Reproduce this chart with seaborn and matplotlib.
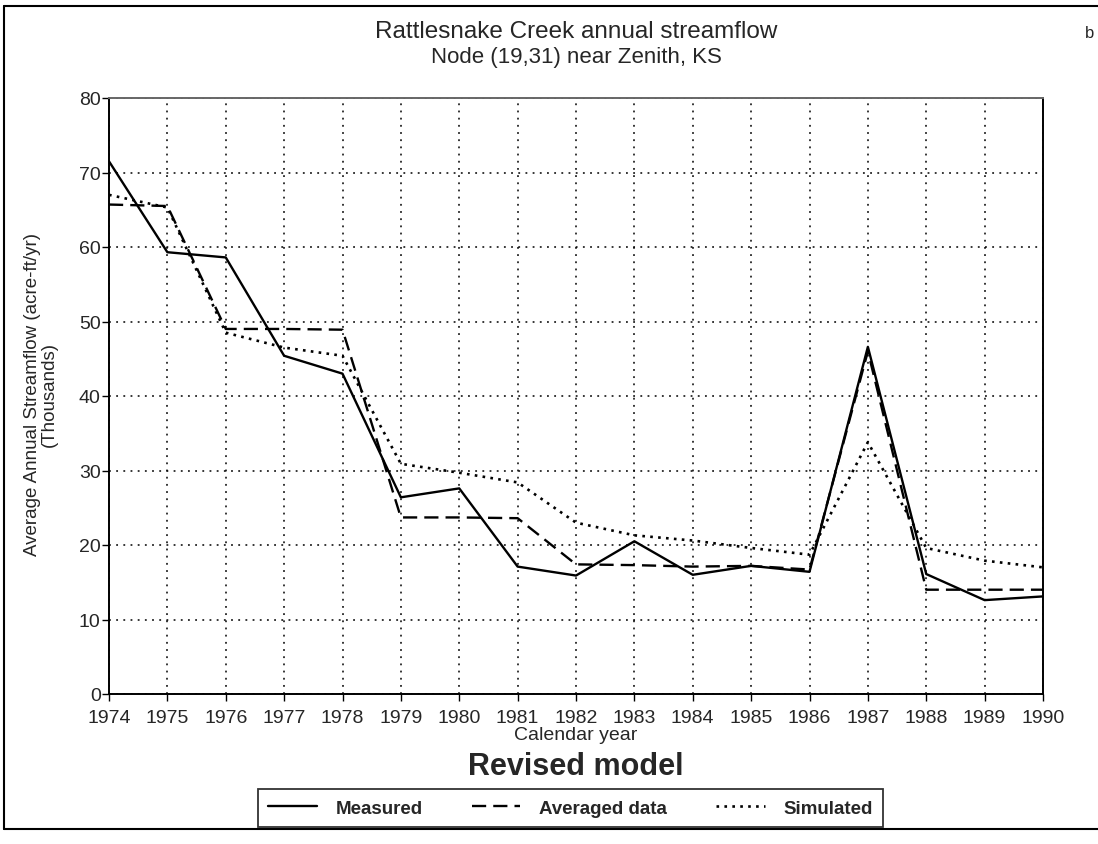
import matplotlib
matplotlib.use("Agg")
import matplotlib.pyplot as plt
from matplotlib.lines import Line2D
import seaborn as sns
import pandas as pd

# Annual streamflow, thousands of acre-ft/yr
years = list(range(1974, 1991))
measured = [71.5, 59.3, 58.6, 45.4, 43.0, 26.4, 27.6, 17.1, 15.9, 20.5,
            16.0, 17.2, 16.4, 46.6, 16.1, 12.6, 13.1]
averaged = [65.7, 65.5, 49.0, 49.0, 48.9, 23.7, 23.7, 23.6, 17.4, 17.3,
            17.1, 17.2, 16.7, 46.0, 14.0, 14.0, 14.0]
simulated = [67.0, 65.3, 48.5, 46.5, 45.4, 30.9, 29.7, 28.4, 23.0, 21.3,
             20.6, 19.6, 18.7, 33.8, 19.6, 17.9, 17.0]
series_names = ["Measured", "Averaged data", "Simulated"]
y_ticks = list(range(0, 90, 10))

sns.set_theme(style="white")
plt.rcParams["font.family"] = ["Liberation Sans", "DejaVu Sans"]

W, H = 1098, 845
fig = plt.figure(figsize=(W / 100, H / 100), dpi=100)
ax = fig.add_axes([109 / W, 1 - 695 / H, (1043 - 109) / W, (695 - 99) / H])
cx = (109 + 1043) / 2 / W  # horizontal centre of the plot area

styles = {
    "Measured": dict(color="black", linewidth=1.7, linestyle="-"),
    "Averaged data": dict(color="black", linewidth=1.7, linestyle=(0, (6, 3))),
    "Simulated": dict(color="black", linewidth=1.9, linestyle=(0, (1, 2))),
}
for name, vals in zip(series_names, [measured, averaged, simulated]):
    df = pd.DataFrame({"year": years, "flow": vals})
    sns.lineplot(data=df, x="year", y="flow", ax=ax, label=name, **styles[name])

ax.set_xlim(years[0], years[-1])
ax.set_ylim(0, 80)
ax.set_xticks(years)
ax.set_xticklabels([str(y) for y in years], fontsize=14)
ax.set_yticks(y_ticks)
ax.set_yticklabels([str(t) for t in y_ticks], fontsize=14)
ax.tick_params(axis="x", direction="out", length=5, width=1, color="black",
               bottom=True, pad=6)
ax.tick_params(axis="y", direction="out", length=5, width=1, color="black",
               left=True, pad=1)
ax.grid(True, color="black", linestyle=(0, (1.2, 3.5)), linewidth=1.1)
for side in ["left", "bottom", "right", "top"]:
    ax.spines[side].set_color("black")
    ax.spines[side].set_linewidth(1.4)
ax.spines["top"].set_color("#666666")

ax.set_xlabel("Calendar year", fontsize=14, labelpad=0)
ax.set_ylabel("")
fig.text(41 / W, 1 - 395 / H, "Average Annual Streamflow (acre-ft/yr)\n(Thousands)",
         rotation=90, ha="center", va="center", fontsize=13.5, linespacing=1.05,
         multialignment="center")

fig.text(cx, 1 - 32 / H, "Rattlesnake Creek annual streamflow", ha="center",
         va="center", fontsize=17.5)
fig.text(cx, 1 - 57 / H, "Node (19,31) near Zenith, KS", ha="center",
         va="center", fontsize=16)
fig.text(1090 / W, 1 - 34 / H, "b", ha="center", va="center", fontsize=12)
fig.text(cx, 1 - 767 / H, "Revised model", ha="center", va="center",
         fontsize=22, fontweight="bold")

leg = ax.legend(loc="center", bbox_to_anchor=(cx - 0.005, 1 - 809 / H),
                bbox_transform=fig.transFigure, ncol=3, frameon=True,
                fancybox=False, edgecolor="black", handlelength=2.6,
                handletextpad=1.0, columnspacing=2.6, borderpad=0.55,
                prop={"weight": "bold", "size": 13.5})
leg.get_frame().set_linewidth(1.3)

# page frame
fl, ft, fb = 4 / W, 1 - 7 / H, 1 - 830 / H
for xs, ys in [([fl, fl], [fb, ft]), ([fl, 1.0], [ft, ft]), ([fl, 1.0], [fb, fb])]:
    fig.add_artist(Line2D(xs, ys, transform=fig.transFigure, color="black", linewidth=1.5))

fig.savefig("out.png", dpi=100)
